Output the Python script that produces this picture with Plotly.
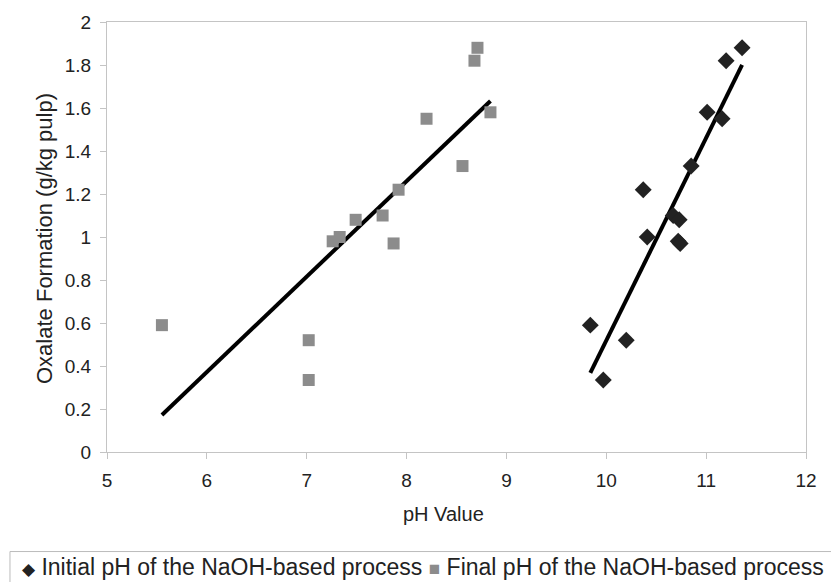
import numpy as np
import plotly.graph_objects as go

# Final pH of the NaOH-based process (squares)
final_ph = [7.26, 7.33, 7.49, 7.76, 7.87, 7.92, 8.20, 8.71, 8.68, 8.84, 8.56, 5.55, 7.02, 7.02]
final_ox = [0.98, 1.00, 1.08, 1.10, 0.97, 1.22, 1.55, 1.88, 1.82, 1.58, 1.33, 0.59, 0.52, 0.335]

# Initial pH of the NaOH-based process (diamonds)
init_ph = [11.36, 11.20, 11.01, 11.16, 10.85, 10.37, 10.67, 10.73, 10.41, 10.72, 10.74, 9.84, 10.20, 9.97]
init_ox = [1.88, 1.82, 1.58, 1.55, 1.33, 1.22, 1.10, 1.08, 1.00, 0.98, 0.97, 0.59, 0.52, 0.335]

x_ticks = [5, 6, 7, 8, 9, 10, 11, 12]
y_ticks = [0, 0.2, 0.4, 0.6, 0.8, 1, 1.2, 1.4, 1.6, 1.8, 2]

FONT = "Liberation Sans, Arial, sans-serif"
DARK = "#222222"
GRAY = "#8c8c8c"


def trend(xs, ys):
    k, b = np.polyfit(xs, ys, 1)
    xx = np.array([min(xs), max(xs)])
    return xx, k * xx + b


fig = go.Figure()

tx, ty = trend(final_ph, final_ox)
fig.add_trace(go.Scatter(x=tx, y=ty, mode="lines", line=dict(color="black", width=4),
                         showlegend=False, hoverinfo="skip"))
tx2, ty2 = trend(init_ph, init_ox)
fig.add_trace(go.Scatter(x=tx2, y=ty2, mode="lines", line=dict(color="black", width=4),
                         showlegend=False, hoverinfo="skip"))

fig.add_trace(go.Scatter(x=final_ph, y=final_ox, mode="markers",
                         name="Final pH of the NaOH-based process",
                         marker=dict(symbol="square", size=12, color=GRAY), showlegend=False))
fig.add_trace(go.Scatter(x=init_ph, y=init_ox, mode="markers",
                         name="Initial pH of the NaOH-based process",
                         marker=dict(symbol="diamond", size=13, color=DARK), showlegend=False))

axis_common = dict(
    showgrid=False, zeroline=False, showline=True, linecolor="#c4c4c4", linewidth=1,
    mirror=True, ticks="outside", ticklen=6, tickcolor="#c4c4c4",
    tickfont=dict(family=FONT, size=19, color=DARK),
)

fig.update_xaxes(range=[5, 12], tickvals=x_ticks, ticktext=[str(v) for v in x_ticks],
                 ticklabelstandoff=5, **axis_common)
fig.update_yaxes(range=[0, 2], tickvals=y_ticks, ticktext=[f"{v:g}" for v in y_ticks],
                 ticklabelstandoff=5, **axis_common)

fig.add_annotation(text="pH Value", xref="paper", yref="paper", x=0.4821, y=-0.1435,
                   showarrow=False, font=dict(family=FONT, size=20, color=DARK),
                   xanchor="center", yanchor="middle")
fig.add_annotation(text="Oxalate Formation (g/kg pulp)", xref="paper", yref="paper",
                   x=-0.0887, y=0.4977, textangle=-90, showarrow=False,
                   font=dict(family=FONT, size=22, color=DARK),
                   xanchor="center", yanchor="middle")

legend_text = (f"<span style='color:{DARK};font-size:17px'>◆</span> Initial pH of the NaOH-based process "
               f"<span style='color:{GRAY};font-size:19px'>■</span> Final pH of the NaOH-based process")
fig.add_annotation(text=legend_text, xref="paper", yref="paper", x=-0.1245, y=-0.2685,
                   showarrow=False, font=dict(family=FONT, size=23, color=DARK),
                   xanchor="left", yanchor="middle")
fig.add_shape(type="rect", xref="paper", yref="paper", x0=-0.1388, x1=1.05, y0=-0.2315, y1=-0.36,
              line=dict(color="#bbbbbb", width=1), fillcolor="rgba(0,0,0,0)")

fig.update_layout(
    width=831, height=582,
    margin=dict(l=107, r=25, t=20, b=130),
    paper_bgcolor="white", plot_bgcolor="white",
    font=dict(family=FONT, color=DARK),
    showlegend=False,
)

fig.write_html("out.html")
